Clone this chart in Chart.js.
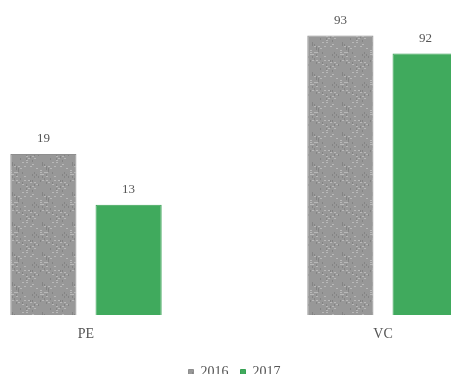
<!DOCTYPE html>
<html>
<head>
<meta charset="utf-8">
<script src="https://cdn.jsdelivr.net/npm/chart.js@4.4.0/dist/chart.umd.min.js"></script>
<style>
  html, body { margin: 0; padding: 0; background: #fff; overflow: hidden; }
  #wrap { width: 451px; height: 374px; position: relative; }
</style>
</head>
<body>
<div id="wrap"><canvas id="chart" width="451" height="374"></canvas></div>
<script>
// data
const categories = ['PE', 'VC'];
const seriesNames = ['2016', '2017'];
const values2016 = [19, 93];
const values2017 = [13, 92];

// each category is drawn on its own (hidden) value axis
const axisMin = [0, 77.6];
const axisMax = [36, 94.4];

const colors = {
    green: '#40aa5d',
    greenBorder: '#36a153',
    grey: '#989898',
    text: '#555555'
};
const serif = '"Liberation Serif", "DejaVu Serif", serif';

// grey speckled texture for the 2016 bars
function makeGreyPattern() {
    const c = document.createElement('canvas');
    c.width = 30; c.height = 30;
    const g = c.getContext('2d');
    g.fillStyle = colors.grey;
    g.fillRect(0, 0, 30, 30);
    for (let y = 0; y < 30; y += 2) {
        for (let x = 0; x < 30; x += 2) {
            const n = Math.abs(Math.sin(x * 12.9898 + y * 78.233) * 43758.5453) % 1;
            if (n > 0.82) { g.fillStyle = '#b8b8b8'; g.fillRect(x, y, 2, 1); }
            else if (n < 0.12) { g.fillStyle = '#848484'; g.fillRect(x, y, 1, 2); }
        }
    }
    return g.createPattern(c, 'repeat');
}

const greyFill = makeGreyPattern();

// one pair of datasets per category, so every category gets its own scale
const datasets = [];
categories.forEach((cat, i) => {
    const axis = i === 0 ? 'y' : 'y2';
    [values2016, values2017].forEach((vals, s) => {
        datasets.push({
            label: seriesNames[s],
            data: categories.map((_, j) => j === i ? vals[j] : null),
            yAxisID: axis,
            base: axisMin[i],
            backgroundColor: s === 0 ? greyFill : colors.green,
            borderColor: s === 0 ? '#8e8e8e' : colors.greenBorder,
            borderWidth: 1,
            clip: false,
            categoryPercentage: 0.574,
            barPercentage: 0.776
        });
    });
});

const valueLabels = {
    id: 'valueLabels',
    afterDatasetsDraw(chart) {
        const ctx = chart.ctx;
        ctx.save();
        ctx.font = '13px ' + serif;
        ctx.fillStyle = colors.text;
        ctx.textAlign = 'center';
        ctx.textBaseline = 'middle';
        chart.data.datasets.forEach((ds, d) => {
            chart.getDatasetMeta(d).data.forEach((bar, k) => {
                if (ds.data[k] == null) return;
                ctx.fillText(ds.data[k], bar.x, bar.y - 15);
            });
        });
        ctx.restore();
    }
};

new Chart(document.getElementById('chart'), {
    type: 'bar',
    data: { labels: categories, datasets: datasets },
    options: {
        responsive: false,
        animation: false,
        skipNull: true,
        layout: { padding: { left: 86, right: 68, top: 10, bottom: -15 } },
        scales: {
            x: {
                offset: false,
                grid: { display: false, drawTicks: false },
                border: { display: false },
                afterFit: s => { s.height = 38; },
                ticks: {
                    padding: 11,
                    color: colors.text,
                    font: { family: serif, size: 14 }
                }
            },
            y: { display: false, min: axisMin[0], max: axisMax[0] },
            y2: { display: false, min: axisMin[1], max: axisMax[1] }
        },
        plugins: {
            legend: {
                position: 'bottom',
                labels: {
                    filter: item => item.datasetIndex < 2,
                    boxWidth: 5,
                    boxHeight: 5,
                    padding: 12,
                    color: colors.text,
                    font: { family: serif, size: 14 }
                }
            },
            tooltip: { enabled: false }
        }
    },
    plugins: [valueLabels]
});
</script>
</body>
</html>
